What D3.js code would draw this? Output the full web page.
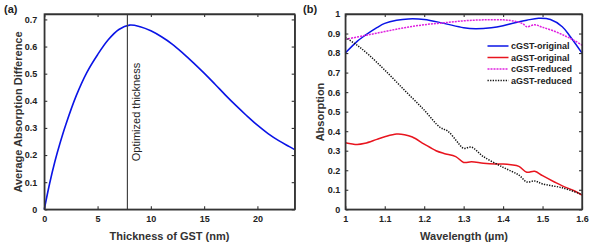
<!DOCTYPE html>
<html lang="en">
<head>
<meta charset="utf-8" />
<script src="https://d3js.org/d3.v7.min.js"></script>
<style>
body { margin: 0; background: #fff; }
svg { font-family: "Liberation Sans", Arial, sans-serif; }
.tick text { font-size: 9px; font-weight: bold; fill: #222; }
.axis-title { font-size: 11px; font-weight: bold; fill: #333; }
.panel-label { font-size: 11px; font-weight: bold; fill: #222; }
.legend text { font-size: 9px; font-weight: bold; fill: #222; }
</style>
</head>
<body>
<svg id="chart" width="599" height="243"></svg>
<script>
// ---- panel (a) data ----
var thickness = [0, 0.5, 1, 1.5, 2, 3, 4, 5, 6, 7, 8, 9, 10, 11, 12, 13, 14, 15, 16, 17, 18, 19, 20, 21, 22, 23, 23.5];
var avgDiff   = [0, 0.095, 0.177, 0.247, 0.31, 0.419, 0.505, 0.57, 0.625, 0.663, 0.679, 0.673, 0.658, 0.636, 0.609, 0.576, 0.54, 0.502, 0.462, 0.421, 0.382, 0.345, 0.31, 0.279, 0.253, 0.231, 0.22];
var optThickness = 7.8;
var xTicksA = [0, 5, 10, 15, 20];
var yTicksA = [0, 0.1, 0.2, 0.3, 0.4, 0.5, 0.6, 0.7];

// ---- panel (b) data ----
var wlBlue  = [1.0, 1.03, 1.05, 1.08, 1.1, 1.13, 1.16, 1.2, 1.25, 1.3, 1.33, 1.37, 1.4, 1.43, 1.46, 1.49, 1.52, 1.55, 1.57, 1.6];
var cGSTorig = [0.80, 0.86, 0.89, 0.93, 0.952, 0.968, 0.975, 0.972, 0.952, 0.93, 0.925, 0.93, 0.94, 0.955, 0.968, 0.978, 0.972, 0.935, 0.885, 0.80];

var wlMag   = [1.0, 1.05, 1.1, 1.15, 1.2, 1.25, 1.3, 1.35, 1.4, 1.43, 1.45, 1.46, 1.48, 1.5, 1.53, 1.56, 1.58, 1.6];
var cGSTred = [0.87, 0.89, 0.91, 0.93, 0.945, 0.955, 0.965, 0.97, 0.97, 0.963, 0.95, 0.935, 0.945, 0.932, 0.912, 0.885, 0.865, 0.84];

var wlRed   = [1.0, 1.03, 1.05, 1.08, 1.1, 1.13, 1.15, 1.17, 1.2, 1.23, 1.25, 1.28, 1.3, 1.32, 1.35, 1.38, 1.4, 1.42, 1.44, 1.46, 1.48, 1.5, 1.53, 1.55, 1.58, 1.6];
var aGSTorig = [0.341, 0.332, 0.338, 0.358, 0.371, 0.385, 0.382, 0.37, 0.334, 0.3, 0.286, 0.27, 0.24, 0.243, 0.236, 0.232, 0.232, 0.228, 0.22, 0.19, 0.195, 0.172, 0.14, 0.12, 0.095, 0.073];

var wlBlk   = [1.0, 1.03, 1.06, 1.1, 1.15, 1.2, 1.24, 1.26, 1.28, 1.29, 1.3, 1.32, 1.35, 1.4, 1.44, 1.46, 1.48, 1.5, 1.55, 1.6];
var aGSTred = [0.88, 0.84, 0.79, 0.713, 0.61, 0.508, 0.42, 0.40, 0.355, 0.33, 0.312, 0.318, 0.27, 0.215, 0.175, 0.14, 0.145, 0.13, 0.11, 0.076];

var xTicksB = [1, 1.1, 1.2, 1.3, 1.4, 1.5, 1.6];
var yTicksB = [0, 0.1, 0.2, 0.3, 0.4, 0.5, 0.6, 0.7, 0.8, 0.9, 1];

var svg = d3.select("#chart");
var frameColor = "#333";

// box with inward ticks on all four sides
function drawFrame(g, x, y, xTicks, yTicks, xFmt, yFmt, tickPadY) {
  var w = x.range()[1] - x.range()[0], h = y.range()[0] - y.range()[1];
  g.append("g").attr("transform", "translate(0," + y.range()[0] + ")")
    .call(d3.axisBottom(x).tickValues(xTicks).tickSizeInner(-3).tickSizeOuter(0).tickPadding(6).tickFormat(xFmt));
  g.append("g").attr("transform", "translate(0," + y.range()[1] + ")")
    .call(d3.axisTop(x).tickValues(xTicks).tickSizeInner(-3).tickSizeOuter(0).tickFormat(""));
  g.append("g").attr("transform", "translate(" + x.range()[0] + ",0)")
    .call(d3.axisLeft(y).tickValues(yTicks).tickSizeInner(-3).tickSizeOuter(0).tickPadding(tickPadY).tickFormat(yFmt));
  g.append("g").attr("transform", "translate(" + x.range()[1] + ",0)")
    .call(d3.axisRight(y).tickValues(yTicks).tickSizeInner(-3).tickSizeOuter(0).tickFormat(""));
  g.selectAll(".domain").attr("stroke", frameColor).attr("stroke-width", 1.3);
  g.selectAll(".tick line").attr("stroke", frameColor).attr("stroke-width", 1.1);
  g.append("rect").attr("x", x.range()[0]).attr("y", y.range()[1])
    .attr("width", w).attr("height", h)
    .attr("fill", "none").attr("stroke", frameColor).attr("stroke-width", 1.3);
}

// ---- panel (a) ----
var xA = d3.scaleLinear().domain([0, 23.5]).range([44.3, 294.7]);
var yA = d3.scaleLinear().domain([0, 0.72]).range([209.3, 14]);
var gA = svg.append("g");

var lineA = d3.line().x(function(d) { return xA(d[0]); }).y(function(d) { return yA(d[1]); })
  .curve(d3.curveCatmullRom.alpha(0.5));
gA.append("path").datum(d3.zip(thickness, avgDiff))
  .attr("d", lineA).attr("fill", "none").attr("stroke", "#0a14e6").attr("stroke-width", 1.6);

gA.append("line").attr("x1", xA(optThickness)).attr("x2", xA(optThickness))
  .attr("y1", yA(0)).attr("y2", yA(0.72)).attr("stroke", "#444").attr("stroke-width", 1.2);
gA.append("text").attr("transform", "translate(" + (xA(optThickness) + 13) + ",112) rotate(-90)")
  .attr("text-anchor", "middle").attr("font-size", "11px").attr("fill", "#222")
  .text("Optimized thickness");

drawFrame(gA, xA, yA, xTicksA, yTicksA, d3.format("d"), function(d) { return d === 0 ? "0" : d3.format(".1f")(d); }, 7);

gA.append("text").attr("class", "axis-title").attr("x", 169.5).attr("y", 240).attr("text-anchor", "middle")
  .text("Thickness of GST (nm)");
gA.append("text").attr("class", "axis-title").attr("transform", "translate(22,112) rotate(-90)")
  .attr("text-anchor", "middle").text("Average Absorption Difference");
gA.append("text").attr("class", "panel-label").attr("x", 4).attr("y", 13).text("(a)");

// ---- panel (b) ----
var xB = d3.scaleLinear().domain([1, 1.6]).range([345.3, 582]);
var yB = d3.scaleLinear().domain([0, 1]).range([209.3, 14]);
var gB = svg.append("g");

var lineB = d3.line().x(function(d) { return xB(d[0]); }).y(function(d) { return yB(d[1]); })
  .curve(d3.curveCatmullRom.alpha(0.5));

var series = [
  { name: "cGST-original", x: wlBlue, y: cGSTorig, color: "#0a14e6", dash: null },
  { name: "aGST-original", x: wlRed, y: aGSTorig, color: "#e8141e", dash: null },
  { name: "cGST-reduced", x: wlMag, y: cGSTred, color: "#e020e0", dash: "2,1" },
  { name: "aGST-reduced", x: wlBlk, y: aGSTred, color: "#111", dash: "1.3,1.3" }
];

series.forEach(function(s) {
  gB.append("path").datum(d3.zip(s.x, s.y))
    .attr("d", lineB).attr("fill", "none").attr("stroke", s.color)
    .attr("stroke-width", 1.5).attr("stroke-dasharray", s.dash);
});

drawFrame(gB, xB, yB, xTicksB, yTicksB, d3.format(""), d3.format(""), 5);

gB.append("text").attr("class", "axis-title").attr("x", 464).attr("y", 240).attr("text-anchor", "middle")
  .text("Wavelength (\u00b5m)");
gB.append("text").attr("class", "axis-title").attr("transform", "translate(324,112) rotate(-90)")
  .attr("text-anchor", "middle").text("Absorption");
gB.append("text").attr("class", "panel-label").attr("x", 303).attr("y", 13).text("(b)");

var legend = gB.append("g").attr("class", "legend");
series.forEach(function(s, i) {
  var ly = 46 + i * 11.5;
  legend.append("line").attr("x1", 487.5).attr("x2", 508.5).attr("y1", ly).attr("y2", ly)
    .attr("stroke", s.color).attr("stroke-width", 1.5).attr("stroke-dasharray", s.dash);
  legend.append("text").attr("x", 511).attr("y", ly + 3.2).text(s.name);
});
</script>
</body>
</html>
